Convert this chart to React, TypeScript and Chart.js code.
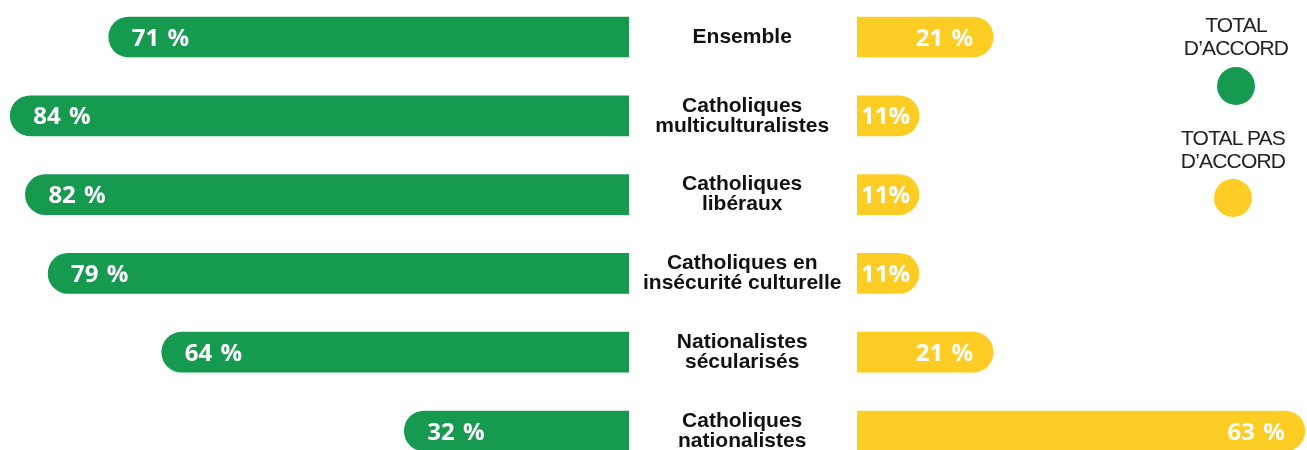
import React, { useEffect, useRef } from "react";
import { Chart, registerables } from "chart.js";

Chart.register(...registerables);

const categories: string[][] = [
  ["Ensemble"],
  ["Catholiques", "multiculturalistes"],
  ["Catholiques", "libéraux"],
  ["Catholiques en", "insécurité culturelle"],
  ["Nationalistes", "sécularisés"],
  ["Catholiques", "nationalistes"],
];
const totalAccord = [71, 84, 82, 79, 64, 32];
const totalPasAccord = [21, 11, 11, 11, 21, 63];
const legendAccord = ["TOTAL", "D’ACCORD"];
const legendPasAccord = ["TOTAL PAS", "D’ACCORD"];

const GREEN = "#169a50";
const YELLOW = "#fdcd24";
const VALUE_FONT = "700 24px 'Open Sans'";

const fmt = (v: number) => (v <= 11 ? `${v}%` : `${v} %`);

const leftLabels = {
  id: "leftLabels",
  afterDatasetsDraw(chart: any) {
    const ctx = chart.ctx;
    const meta = chart.getDatasetMeta(0);
    ctx.save();
    ctx.font = VALUE_FONT;
    ctx.fillStyle = "#ffffff";
    ctx.textAlign = "left";
    ctx.textBaseline = "alphabetic";
    try { (ctx as any).wordSpacing = "2px"; } catch (e) {}
    meta.data.forEach((el: any, i: number) => {
      const { x, y } = el.getProps(["x", "y"], true);
      ctx.fillText(fmt(totalAccord[i]), x + 23, y + 8.5);
    });
    ctx.restore();
  },
};

const rightLabels = {
  id: "rightLabels",
  afterDatasetsDraw(chart: any) {
    const ctx = chart.ctx;
    const meta = chart.getDatasetMeta(0);
    const left = chart.chartArea.left;
    ctx.save();
    ctx.font = VALUE_FONT;
    ctx.fillStyle = "#ffffff";
    ctx.textBaseline = "alphabetic";
    try { (ctx as any).wordSpacing = "2px"; } catch (e) {}
    meta.data.forEach((el: any, i: number) => {
      const { x, y } = el.getProps(["x", "y"], true);
      const t = fmt(totalPasAccord[i]);
      const w = ctx.measureText(t).width;
      let tx = x - 20 - w;
      if (tx < left + 4) tx = left + 4;
      ctx.textAlign = "left";
      ctx.fillText(t, tx, y + 8.5);
    });
    ctx.restore();
  },
};

export default function App() {
  const leftRef = useRef<HTMLCanvasElement>(null);
  const rightRef = useRef<HTMLCanvasElement>(null);

  useEffect(() => {
    const common = {
      animation: false as const,
      responsive: false,
      indexAxis: "y" as const,
      plugins: { legend: { display: false }, tooltip: { enabled: false } },
    };
    const left = new Chart(leftRef.current!, {
      type: "bar",
      data: {
        labels: categories,
        datasets: [
          {
            data: totalAccord,
            backgroundColor: GREEN,
            barThickness: 40,
            borderRadius: 20,
            borderSkipped: "start",
            clip: { left: 0, right: 0, top: 40, bottom: 40 } as any,
          },
        ],
      },
      options: {
        ...common,
        layout: { padding: { top: 37, bottom: 19, left: 0, right: 0 } },
        scales: {
          x: { type: "linear", reverse: true, min: 2.35, max: 85.35, display: false },
          y: {
            type: "category",
            position: "right",
            offset: false,
            grid: { display: false, drawTicks: false },
            border: { display: false },
            ticks: {
              crossAlign: "center",
              padding: 14,
              color: "#111111",
              font: { family: "'Liberation Sans', Arial, sans-serif", weight: "bold", size: 21, lineHeight: 0.96 },
            },
            afterFit: (s: any) => {
              s.width = 228;
              s.paddingTop = 0;
              s.paddingBottom = 0;
            },
          },
        },
      },
      plugins: [leftLabels],
    });
    const right = new Chart(rightRef.current!, {
      type: "bar",
      data: {
        labels: categories,
        datasets: [
          {
            data: totalPasAccord,
            backgroundColor: YELLOW,
            barThickness: 40,
            borderRadius: 20,
            borderSkipped: "start",
            clip: { left: 0, right: 0, top: 40, bottom: 40 } as any,
          },
        ],
      },
      options: {
        ...common,
        layout: { padding: { top: 37, bottom: 19, left: 0, right: 0 } },
        scales: {
          x: { type: "linear", min: 2.65, max: 63.3, display: false },
          y: { type: "category", offset: false, display: false },
        },
      },
      plugins: [rightLabels],
    });
    return () => {
      left.destroy();
      right.destroy();
    };
  }, []);

  const legendText: React.CSSProperties = {
    position: "absolute",
    width: 160,
    textAlign: "center",
    fontFamily: "'Liberation Sans', Arial, sans-serif",
    fontSize: 21,
    lineHeight: "23px",
    letterSpacing: "-0.8px",
    color: "#222222",
  };
  const dot = (bg: string, cx: number, cy: number): React.CSSProperties => ({
    position: "absolute",
    left: cx - 19,
    top: cy - 19,
    width: 38,
    height: 38,
    borderRadius: "50%",
    background: bg,
  });

  return (
    <div style={{ position: "absolute", left: 0, top: 0, width: 1307, height: 450, background: "#fff", overflow: "hidden" }}>
      <canvas ref={leftRef} width={857} height={450} style={{ position: "absolute", left: 0, top: 0 }} />
      <canvas ref={rightRef} width={450} height={450} style={{ position: "absolute", left: 857, top: 0 }} />
      <div style={{ ...legendText, left: 1236 - 80, top: 13 }}>
        {legendAccord.map((t) => (
          <div key={t}>{t}</div>
        ))}
      </div>
      <div style={dot(GREEN, 1236, 86)} />
      <div style={{ ...legendText, left: 1233 - 80, top: 126 }}>
        {legendPasAccord.map((t) => (
          <div key={t}>{t}</div>
        ))}
      </div>
      <div style={dot(YELLOW, 1233, 198)} />
    </div>
  );
}
